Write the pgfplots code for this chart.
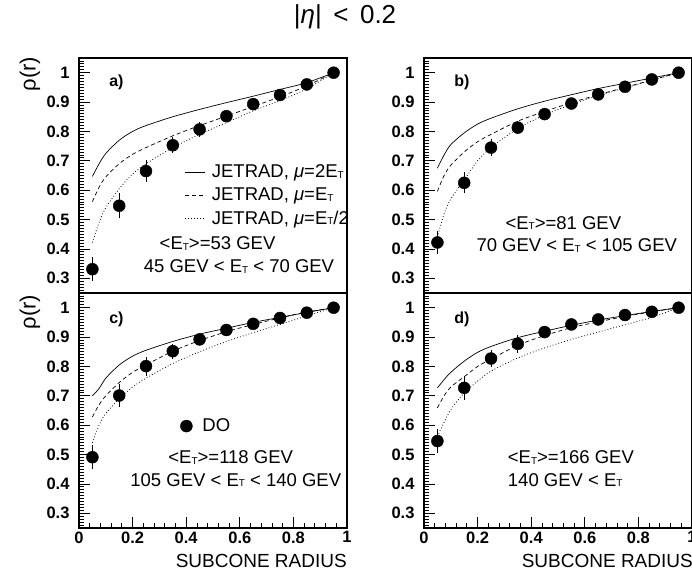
\documentclass[border=0pt]{standalone}
\usepackage{fontspec}
\setmainfont{Liberation Sans}
\usepackage{pgfplots}
\usepackage{pgfplotstable}
\pgfplotsset{compat=1.18}

\newcommand{\ET}{E\raisebox{-0.6pt}{\fontsize{10}{10}\selectfont T}}
\newcommand{\pfont}{\fontsize{18.5}{18.5}\selectfont}
\tikzset{plab/.style={anchor=west, font=\bfseries\fontsize{16}{16}\selectfont}}

% data points: subcone radius, rho, error
\pgfplotstableread{
x    y     ey
0.05 0.331 0.040
0.15 0.547 0.042
0.25 0.665 0.038
0.35 0.753 0.028
0.45 0.807 0.026
0.55 0.852 0.012
0.65 0.893 0.010
0.75 0.924 0.010
0.85 0.960 0.010
0.95 1.000 0.000
}\dataA
\pgfplotstableread{
x    y     ey
0.05 0.422 0.040
0.15 0.625 0.036
0.25 0.745 0.030
0.35 0.813 0.022
0.45 0.859 0.015
0.55 0.895 0.010
0.65 0.926 0.010
0.75 0.952 0.010
0.85 0.977 0.010
0.95 1.000 0.000
}\dataB
\pgfplotstableread{
x    y     ey
0.05 0.491 0.040
0.15 0.701 0.040
0.25 0.801 0.032
0.35 0.852 0.025
0.45 0.892 0.015
0.55 0.924 0.010
0.65 0.945 0.010
0.75 0.965 0.010
0.85 0.983 0.010
0.95 1.000 0.000
}\dataC
\pgfplotstableread{
x    y     ey
0.05 0.546 0.040
0.15 0.727 0.040
0.25 0.827 0.030
0.35 0.877 0.030
0.45 0.917 0.015
0.55 0.943 0.010
0.65 0.960 0.010
0.75 0.975 0.010
0.85 0.986 0.010
0.95 1.000 0.000
}\dataD

% JETRAD curves: s = mu=2ET, d = mu=ET, t = mu=ET/2
\pgfplotstableread{
x     s     d     t
0.05  0.647 0.561 0.422
0.075 0.690 0.610 0.490
0.10  0.725 0.645 0.540
0.15  0.770 0.690 0.605
0.20  0.800 0.722 0.655
0.25  0.820 0.745 0.690
0.35  0.850 0.785 0.745
0.45  0.875 0.820 0.790
0.55  0.898 0.852 0.830
0.65  0.920 0.885 0.870
0.75  0.943 0.918 0.905
0.85  0.966 0.955 0.945
0.95  1.000 1.000 1.000
}\thA
\pgfplotstableread{
x     s     d     t
0.05  0.675 0.596 0.440
0.075 0.720 0.650 0.520
0.10  0.755 0.685 0.570
0.15  0.795 0.730 0.635
0.20  0.825 0.765 0.700
0.25  0.845 0.790 0.745
0.35  0.877 0.835 0.810
0.45  0.903 0.868 0.856
0.55  0.925 0.898 0.892
0.65  0.946 0.925 0.922
0.75  0.964 0.950 0.948
0.85  0.982 0.975 0.974
0.95  1.000 1.000 1.000
}\thB
\pgfplotstableread{
x     s     d     t
0.05  0.700 0.628 0.540
0.075 0.725 0.670 0.600
0.10  0.760 0.700 0.640
0.15  0.805 0.745 0.690
0.20  0.835 0.780 0.730
0.25  0.855 0.805 0.760
0.35  0.885 0.852 0.810
0.45  0.910 0.888 0.850
0.55  0.930 0.918 0.885
0.65  0.950 0.943 0.915
0.75  0.967 0.965 0.943
0.85  0.984 0.985 0.972
0.95  1.000 1.000 1.000
}\thC
\pgfplotstableread{
x     s     d     t
0.05  0.727 0.659 0.562
0.075 0.755 0.700 0.610
0.10  0.780 0.730 0.653
0.15  0.818 0.765 0.710
0.20  0.848 0.800 0.750
0.25  0.868 0.825 0.784
0.35  0.898 0.872 0.829
0.45  0.920 0.905 0.863
0.55  0.940 0.932 0.892
0.65  0.958 0.952 0.917
0.75  0.973 0.970 0.942
0.85  0.987 0.986 0.967
0.95  1.000 1.000 1.000
}\thD

\pgfplotsset{
  panel/.style={
    scale only axis, width=268pt, height=235pt, anchor=south west,
    xmin=0, xmax=1, ymin=0.25, ymax=1.05,
    ytick={0.3,0.4,0.5,0.6,0.7,0.8,0.9,1},
    minor ytick={0.25,0.26,...,1.05},
    tick align=inside, ytick pos=left, xtick pos=bottom,
    axis line style={line width=1.2pt},
    major tick length=11pt, minor tick length=5pt,
    every tick/.style={line width=0.8pt, black},
    ticklabel style={font=\bfseries\fontsize{16.5}{16.5}\selectfont},
    yticklabel style={xshift=-6pt},
    /pgf/number format/assume math mode=true,
  },
  toprow/.style={xtick=\empty},
  botrow/.style={xtick={0,0.2,0.4,0.6,0.8,1}, minor x tick num=4},
  sol/.style={black, line width=0.7pt, smooth},
  das/.style={black, line width=0.7pt, smooth, dash pattern=on 4pt off 3pt},
  dot/.style={black, line width=0.8pt, smooth, dash pattern=on 0.8pt off 2.2pt},
  pts/.style={only marks, mark=*, mark size=6pt, black,
    error bars/.cd, y dir=both, y explicit, error mark=none,
    error bar style={line width=1pt}},
}

\begin{document}
\begin{tikzpicture}
% a)
\begin{axis}[panel, toprow, at={(79pt,278pt)},
  legend style={at={(axis cs:0.395,0.693)}, anchor=north west, draw=none,
    fill=none, font=\pfont, inner sep=0pt, row sep=4.5pt, cells={anchor=west}},
  legend image code/.code={\draw[#1] (0pt,0pt) -- (20pt,0pt); \path (24pt,0pt);}]
  \addplot[sol] table[x=x,y=s] {\thA};
  \addlegendentry{JETRAD, \textit{μ}=2\ET}
  \addplot[das] table[x=x,y=d] {\thA};
  \addlegendentry{JETRAD, \textit{μ}=\ET}
  \addplot[dot] table[x=x,y=t] {\thA};
  \addlegendentry{JETRAD, \textit{μ}=\ET/2}
  \addplot[pts] table[x=x,y=y,y error=ey] {\dataA};
  \node[plab] at (axis cs:0.1,0.966) {a)};
  \node[font=\pfont] at (axis cs:0.517,0.419) {<\ET>=53 GEV};
  \node[font=\pfont] at (axis cs:0.597,0.340) {45 GEV < \ET{} < 70 GEV};
\end{axis}
% b)
\begin{axis}[panel, toprow, at={(424pt,278pt)}]
  \addplot[sol] table[x=x,y=s] {\thB};
  \addplot[das] table[x=x,y=d] {\thB};
  \addplot[dot] table[x=x,y=t] {\thB};
  \addplot[pts] table[x=x,y=y,y error=ey] {\dataB};
  \node[plab] at (axis cs:0.1,0.966) {b)};
  \node[font=\pfont] at (axis cs:0.52,0.488) {<\ET>=81 GEV};
  \node[font=\pfont] at (axis cs:0.57,0.412) {70 GEV < \ET{} < 105 GEV};
\end{axis}
% c)
\begin{axis}[panel, botrow, at={(79pt,43pt)},
  legend style={at={(axis cs:0.40,0.597)}, anchor=west, xshift=-6pt,
    draw=none, fill=none, font=\pfont, inner sep=0pt},
  legend image code/.code={\draw[#1] plot coordinates {(6pt,0pt)};}]
  \addplot[sol, forget plot] table[x=x,y=s] {\thC};
  \addplot[das, forget plot] table[x=x,y=d] {\thC};
  \addplot[dot, forget plot] table[x=x,y=t] {\thC};
  \addplot[pts] table[x=x,y=y,y error=ey] {\dataC};
  \addlegendentry{\hspace{8pt}DO}
  \node[plab] at (axis cs:0.1,0.96) {c)};
  \node[font=\pfont] at (axis cs:0.566,0.49) {<\ET>=118 GEV};
  \node[font=\pfont] at (axis cs:0.585,0.413) {105 GEV < \ET{} < 140 GEV};
\end{axis}
% d)
\begin{axis}[panel, botrow, at={(424pt,43pt)}]
  \addplot[sol] table[x=x,y=s] {\thD};
  \addplot[das] table[x=x,y=d] {\thD};
  \addplot[dot] table[x=x,y=t] {\thD};
  \addplot[pts] table[x=x,y=y,y error=ey] {\dataD};
  \node[plab] at (axis cs:0.1,0.96) {d)};
  \node[anchor=west, font=\pfont] at (axis cs:0.300,0.49) {<\ET>=166 GEV};
  \node[anchor=west, font=\pfont] at (axis cs:0.300,0.413) {140 GEV < \ET};
\end{axis}
% thick shared boundaries
\draw[line width=2.5pt] (79pt,278pt) -- (347pt,278pt);
\draw[line width=2.5pt] (424pt,278pt) -- (692pt,278pt);
% labels
\node[rotate=90, font=\fontsize{22}{22}\selectfont] at (30pt,497pt) {ρ(r)};
\node[rotate=90, font=\fontsize{22}{22}\selectfont] at (30pt,259pt) {ρ(r)};
\node[anchor=base east, font=\fontsize{19}{19}\selectfont, inner sep=0pt] at (347pt,4pt) {SUBCONE RADIUS};
\node[anchor=base east, font=\fontsize{19}{19}\selectfont, inner sep=0pt] at (693pt,4pt) {SUBCONE RADIUS};
\node[font=\fontsize{26}{26}\selectfont] at (345pt,554pt) {|\textit{η}|\, < \,0.2};
\pgfresetboundingbox
\useasboundingbox (0pt,0pt) rectangle (692pt,571pt);
\end{tikzpicture}
\end{document}
